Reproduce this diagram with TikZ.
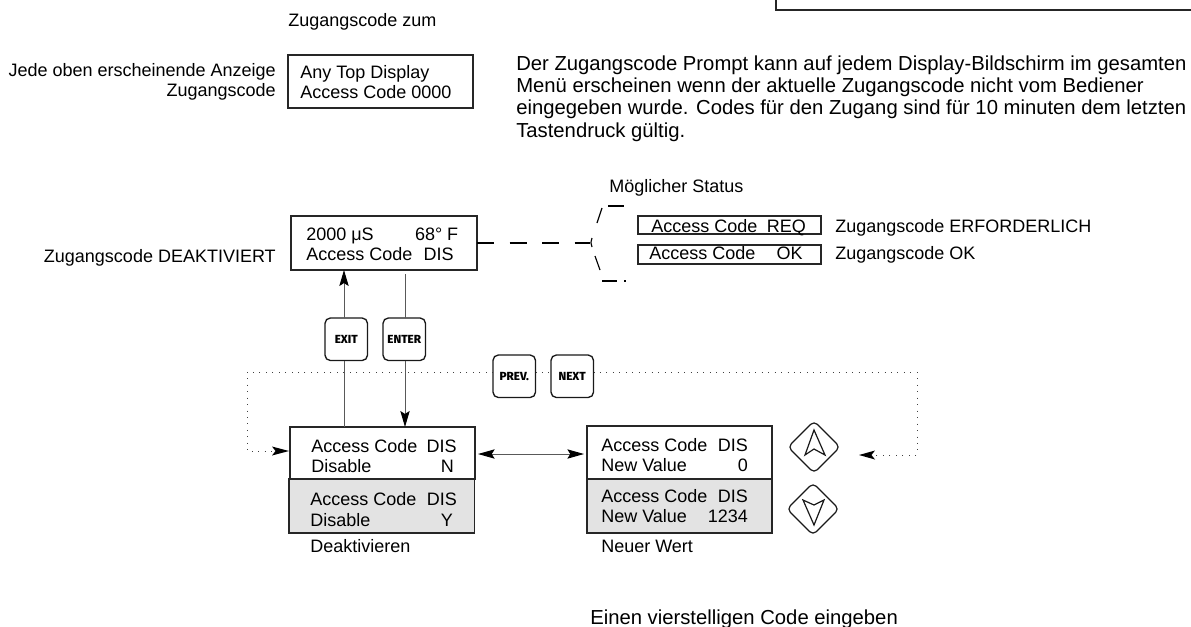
\documentclass[tikz,border=0pt]{standalone}
\usepackage{fontspec}
\setmainfont{Liberation Sans}
\newfontfamily\keyfont{Fira Sans ExtraBold}
\usetikzlibrary{arrows.meta,calc}
\newcommand{\lcdrow}[3]{\hbox to #1pt{#2\hfill #3}}
\tikzset{
 x=0.75pt,y=-0.75pt,
 txt/.style={inner sep=0pt,anchor=base west,font=\fontsize{13.5}{14.8}\selectfont},
 txtr/.style={txt,anchor=base east},
 bigtxt/.style={txt,font=\fontsize{15.2}{16.7}\selectfont},
 sized/.style 2 args={minimum width=#1*0.75pt,minimum height=#2*0.75pt},
 box/.style={draw=black!85,line width=1pt,anchor=north west,inner sep=0pt,outer sep=0pt},
 greybox/.style={box,fill=black!11},
 key/.style={draw=black!90,line width=1pt,rounded corners=4pt,anchor=north west,sized={42.5}{42.5},inner sep=0pt,outer sep=0pt,fill=white,font=\keyfont\fontsize{8.8}{9}\selectfont},
 conn/.style={draw=black!65,line width=0.75pt},
 tip/.style={-{Stealth[length=12pt,width=7pt,inset=2.2pt,color=black]}},
 tips/.style={{Stealth[length=12.5pt,width=7pt,inset=2.2pt,color=black]}-{Stealth[length=12.5pt,width=7pt,inset=2.2pt,color=black]}},
 dotl/.style={draw=black!75,line width=0.75pt,dash pattern=on 0.75pt off 4.1pt},
 dashl/.style={draw=black,line width=0.85pt},
 pad/.style={draw=black!90,line width=0.9pt,rounded corners=3.5pt},
 padarrow/.style={draw=black!90,line width=0.9pt,line join=miter},
}
\begin{document}
\begin{tikzpicture}
\useasboundingbox (0,0) rectangle (1191,626);
% remnant of box at the top right
\draw[black!85,line width=1.1pt] (776,0) -- (776,10) -- (1191,10);
% top part
\node[txt] (t1) at (288,26) {Zugangscode zum};
\node[txtr] (t2) at (276,76) {Jede oben erscheinende Anzeige};
\node[txtr] (t3) at (276,96) {Zugangscode};
\node[box,sized={185}{53}] (b0) at (288,55) {};
\node[txt] (b0a) at (300,78) {Any Top Display};
\node[txt] (b0b) at (300,98) {Access Code 0000};
\node[bigtxt,align=left] (para) at (516,137) {Der Zugangscode Prompt kann auf jedem Display-Bildschirm im gesamten\\Menü erscheinen wenn der aktuelle Zugangscode nicht vom Bediener\\eingegeben wurde. Codes für den Zugang sind für 10 minuten dem letzten\\Tastendruck gültig.};
% main display
\node[txtr] (l1) at (276,262) {Zugangscode DEAKTIVIERT};
\node[box,sized={186}{54}] (b2) at (291,216) {};
\node[txt] (b2a) at (306,240) {\lcdrow{114}{2000 μS}{68° F}};
\node[txt] (b2b) at (306,260) {\lcdrow{110.5}{Access Code}{DIS}};
% status
\node[txt] (st) at (609,192) {Möglicher Status};
\node[box,sized={183}{18}] (s1) at (638,216) {};
\node[box,sized={183}{19}] (s2) at (638,245) {};
\node[txt] (s1a) at (651,232) {\lcdrow{116}{Access Code}{REQ}};
\node[txt] (s2a) at (649,259) {\lcdrow{115}{Access Code}{OK}};
\node[txt] (s1b) at (835,232) {Zugangscode ERFORDERLICH};
\node[txt] (s2b) at (835,259) {Zugangscode OK};
\coordinate (j) at (590,243);
\draw[dashl,dash pattern=on 13pt off 11.4pt] (b2.east |- j) -- (j);
\draw[dashl] (592,238) to[bend right=25] (592,247);
\draw[dashl] (602,208) -- (597,223);
\draw[dashl] (608,206) -- (624,206);
\draw[dashl] (595,256) -- (600,270);
\draw[dashl] (602,281) -- (617,281);
\draw[dashl] (624,281) -- (626,281);
% keys
\node[key] (exit) at (325,318) {EXIT};
\node[key] (enter) at (383,318) {ENTER};
\node[key] (prev) at (493,355) {PREV.};
\node[key] (next) at (551,355) {NEXT};
% lower boxes
\node[box,sized={185}{52}] (lo1) at (290,427) {};
\node[greybox,sized={185.5}{54}] (lo2) at (289,479) {};
\node[txt] (lo1a) at (311,452) {\lcdrow{109}{Access Code}{DIS}};
\node[txt] (lo1b) at (311,472) {\lcdrow{107}{Disable}{N}};
\node[txt] (lo2a) at (310,505) {\lcdrow{110}{Access Code}{DIS}};
\node[txt] (lo2b) at (310,526) {\lcdrow{107}{Disable}{Y}};
\node[txt] (lo3) at (310,552) {Deaktivieren};
\node[box,sized={185}{53}] (r1) at (587,426) {};
\node[greybox,sized={185}{54}] (r2) at (587,479) {};
\node[txt] (r1a) at (601,451) {\lcdrow{110}{Access Code}{DIS}};
\node[txt] (r1b) at (601,471) {\lcdrow{110}{New Value}{0}};
\node[txt] (r2a) at (601,502) {\lcdrow{110}{Access Code}{DIS}};
\node[txt] (r2b) at (601,522) {\lcdrow{110}{New Value}{1234}};
\node[txt] (r3) at (601,552) {Neuer Wert};
\node[bigtxt] (bot) at (590,624) {Einen vierstelligen Code eingeben};
% connectors
\coordinate (ex) at (344,0);
\coordinate (en) at (405,0);
\draw[conn,tip] (exit.north -| ex) -- (b2.south -| ex);
\draw[conn] (lo1.north -| ex) -- (exit.south -| ex);
\draw[conn] (enter.north -| en) -- ($(b2.south -| en)+(0,4)$);
\draw[conn,tip] (enter.south -| en) -- (lo1.north -| en);
\coordinate (dy) at (0,372);
\coordinate (dl) at (247,372);
\coordinate (dr) at (917,372);
\coordinate (ra) at (859,455);
\draw[conn,tips] ($(lo1.east |- 0,454)+(3,0)$) -- ($(r1.west |- 0,454)+(-3,0)$);
\draw[dotl] (prev.east |- dy) -- (next.west |- dy);
\draw[dotl] (prev.west |- dy) -- (dl) -- (dl |- 0,451) -- ($(lo1.west |- 0,451)+(-18,0)$);
\draw[dotl] (next.east |- dy) -- (dr) -- (dr |- ra) -- ($(ra)+(15,0)$);
\fill[black] (272,446.5) -- (289,451) -- (272,455.5) -- (275.5,451) -- cycle;
\fill[black] (875,450.5) -- (859,455) -- (875,459.5) -- (871.5,455) -- cycle;
% pads
\draw[pad] (814,421) -- (840,447) -- (814,473) -- (788,447) -- cycle;
\draw[padarrow] (814,430) -- (825,455) -- (814,449) -- (805,455) -- cycle;
\draw[pad] (813,483) -- (839,509) -- (813,535) -- (787,509) -- cycle;
\draw[padarrow] (814,525) -- (824,500) -- (814,505) -- (803,500) -- cycle;
\end{tikzpicture}
\end{document}
